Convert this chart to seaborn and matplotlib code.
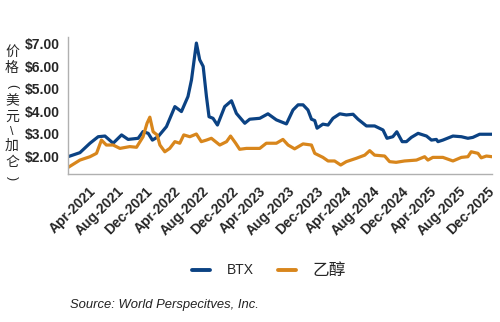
import matplotlib
matplotlib.use("Agg")
import matplotlib.pyplot as plt
import seaborn as sns
import pandas as pd
from matplotlib.lines import Line2D

btx_dates = ["2020-12-14", "2021-02-03", "2021-03-18", "2021-04-22", "2021-05-21", "2021-06-25",
             "2021-07-31", "2021-08-28", "2021-10-10", "2021-10-31", "2021-11-22", "2021-12-10",
             "2022-01-03", "2022-02-08", "2022-03-16", "2022-04-13", "2022-05-11", "2022-05-26",
             "2022-06-16", "2022-06-30", "2022-07-15", "2022-07-29", "2022-08-09", "2022-08-26",
             "2022-09-14", "2022-10-15", "2022-11-13", "2022-12-04", "2023-01-09", "2023-01-30",
             "2023-03-14", "2023-04-18", "2023-05-24", "2023-07-06", "2023-08-03", "2023-08-25",
             "2023-09-15", "2023-10-06", "2023-10-21", "2023-11-04", "2023-11-14", "2023-12-09",
             "2023-12-31", "2024-01-21", "2024-02-19", "2024-03-18", "2024-04-16", "2024-05-07",
             "2024-06-12", "2024-07-17", "2024-08-22", "2024-09-08", "2024-10-03", "2024-10-20",
             "2024-11-12", "2024-11-30", "2024-12-21", "2025-01-19", "2025-02-24", "2025-03-17",
             "2025-04-07", "2025-04-14", "2025-05-05", "2025-06-17", "2025-07-23", "2025-08-20",
             "2025-09-10", "2025-10-09", "2025-12-01"]
btx_values = [1.97, 2.15, 2.57, 2.86, 2.89, 2.57,
              2.94, 2.74, 2.79, 3.09, 3.01, 2.71,
              2.86, 3.31, 4.20, 3.98, 4.65, 5.39,
              7.03, 6.29, 5.99, 4.65, 3.75, 3.68,
              3.38, 4.20, 4.46, 3.90, 3.46, 3.64,
              3.68, 3.88, 3.61, 3.43, 4.05, 4.28,
              4.28, 4.05, 3.64, 3.58, 3.24, 3.42,
              3.38, 3.68, 3.88, 3.83, 3.86, 3.64,
              3.34, 3.34, 3.16, 2.79, 2.86, 3.08,
              2.64, 2.64, 2.83, 3.01, 2.89, 2.71,
              2.74, 2.64, 2.71, 2.89, 2.86, 2.79,
              2.83, 2.97, 2.97]

eth_dates = ["2020-12-14", "2021-02-03", "2021-03-18", "2021-04-15", "2021-05-06", "2021-05-27",
             "2021-06-25", "2021-07-24", "2021-09-04", "2021-10-03", "2021-10-31", "2021-11-17",
             "2021-11-29", "2021-12-13", "2021-12-30", "2022-01-11", "2022-02-01", "2022-02-22",
             "2022-03-16", "2022-04-06", "2022-04-23", "2022-05-19", "2022-06-16", "2022-07-07",
             "2022-07-29", "2022-08-19", "2022-09-24", "2022-10-23", "2022-11-09", "2022-12-01",
             "2022-12-18", "2023-01-16", "2023-03-14", "2023-04-11", "2023-05-24", "2023-06-21",
             "2023-07-13", "2023-08-10", "2023-09-15", "2023-10-21", "2023-11-04", "2023-12-09",
             "2023-12-31", "2024-01-28", "2024-02-23", "2024-03-18", "2024-04-30", "2024-06-05",
             "2024-06-26", "2024-07-17", "2024-08-29", "2024-09-19", "2024-10-17", "2024-11-22",
             "2025-01-12", "2025-02-16", "2025-03-02", "2025-03-23", "2025-05-05", "2025-06-17",
             "2025-07-23", "2025-08-20", "2025-09-03", "2025-10-02", "2025-10-16", "2025-11-07",
             "2025-12-01"]
eth_values = [1.49, 1.82, 1.97, 2.12, 2.71, 2.49,
              2.49, 2.34, 2.42, 2.39, 2.86, 3.46,
              3.73, 3.08, 2.94, 2.49, 2.19, 2.34,
              2.64, 2.57, 2.94, 2.86, 2.98, 2.64,
              2.71, 2.79, 2.49, 2.64, 2.89, 2.57,
              2.30, 2.34, 2.34, 2.57, 2.57, 2.74,
              2.49, 2.32, 2.54, 2.49, 2.12, 1.94,
              1.78, 1.78, 1.60, 1.75, 1.90, 2.04,
              2.24, 2.04, 2.00, 1.75, 1.72, 1.78,
              1.82, 1.97, 1.82, 1.94, 1.94, 1.78,
              1.94, 1.97, 2.19, 2.12, 1.92, 2.00,
              1.97]

series_names = ["BTX", "乙醇"]
series_colors = ["#0b4283", "#d8861c"]
tick_dates = ["2021-04-01", "2021-08-01", "2021-12-01", "2022-04-01", "2022-08-01", "2022-12-01",
              "2023-04-01", "2023-08-01", "2023-12-01", "2024-04-01", "2024-08-01", "2024-12-01",
              "2025-04-01", "2025-08-01", "2025-12-01"]
y_ticks = [2, 3, 4, 5, 6, 7]
y_label_chars = ["价", "格", "(", "美", "元", "\\", "加", "仑", ")"]
source_text = "Source: World Perspecitves, Inc."

df = pd.concat([
    pd.DataFrame({"date": pd.to_datetime(btx_dates), "price": btx_values, "series": series_names[0]}),
    pd.DataFrame({"date": pd.to_datetime(eth_dates), "price": eth_values, "series": series_names[1]}),
])

sns.set_style("white")
plt.rcParams["font.family"] = ["Liberation Sans", "Noto Sans CJK SC", "DejaVu Sans"]

W, H = 500, 322
fig = plt.figure(figsize=(W / 100, H / 100), dpi=100)
ax = fig.add_axes([68 / W, 1 - 174 / H, (492 - 68) / W, (174 - 37) / H])

sns.lineplot(data=df, x="date", y="price", hue="series", hue_order=series_names,
             palette=series_colors, linewidth=2.3, ax=ax, legend=False)

ax.set_xlim(pd.Timestamp(btx_dates[0]), pd.Timestamp(btx_dates[-1]))
ax.set_ylim(1.2, 7.3)
ax.set_yticks(y_ticks)
ax.set_yticklabels([f"${v:.2f}" for v in y_ticks], fontweight="bold", fontsize=10)
td = pd.to_datetime(tick_dates)
ax.set_xticks(td)
ax.set_xticklabels([d.strftime("%b-%Y") for d in td], rotation=45, ha="right",
                   va="center", rotation_mode="anchor", fontweight="bold", fontsize=10)
ax.set_xlabel("")
ax.set_ylabel("")

for s in ["top", "right"]:
    ax.spines[s].set_visible(False)
for s in ["left", "bottom"]:
    ax.spines[s].set_color("#b0b0b0")
    ax.spines[s].set_linewidth(1.0)
ax.tick_params(axis="both", which="major", length=4, width=1, color="black", direction="out")
ax.tick_params(axis="x", pad=7)
ax.tick_params(axis="y", pad=2)

char_y = [52, 68, 86, 101, 117, 132, 146, 162, 178]
rotated = {"(", ")"}
for ch, yy in zip(y_label_chars, char_y):
    if ch in rotated:
        fig.text(12 / W, 1 - yy / H, ch, ha="center", va="center", fontsize=9,
                 rotation=-90, family=["Liberation Sans"])
    elif ch == "\\":
        fig.text(12 / W, 1 - yy / H, ch, ha="center", va="center", fontsize=9,
                 family=["Liberation Sans"])
    else:
        fig.text(12 / W, 1 - yy / H, ch, ha="center", va="center", fontsize=10,
                 family=["Noto Sans CJK SC", "DejaVu Sans"])

handles = [Line2D([0], [0], color=c, lw=2.8) for c in series_colors]
leg = fig.legend(handles, series_names, loc="center", bbox_to_anchor=(0.538, 1 - 270 / H), ncol=2,
                 frameon=False, fontsize=10, handlelength=1.3, columnspacing=1.8, handletextpad=1.15)
leg.get_texts()[1].set_fontsize(12)

fig.text(70 / W, 1 - 305 / H, source_text, fontsize=9.4, style="italic", color="#222222",
         va="center")

fig.savefig("out.png", dpi=100)
